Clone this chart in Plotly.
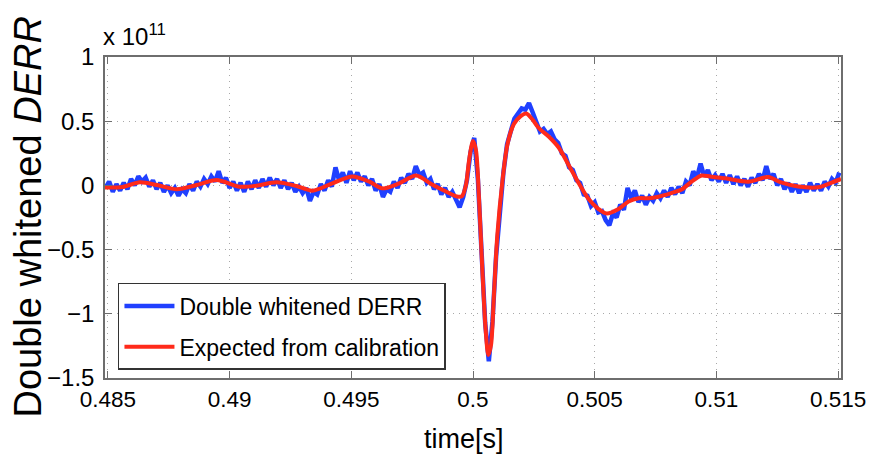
import numpy as np
import plotly.graph_objects as go

# Expected response from calibration (units of 1e11)
model_t = [0.48488, 0.48561, 0.48631, 0.48701, 0.48783, 0.48865, 0.48947, 0.49041,
           0.49111, 0.49193, 0.49275, 0.49340, 0.49422, 0.49504, 0.49574, 0.49627,
           0.49697, 0.49766, 0.49832, 0.49889, 0.49934, 0.49955, 0.49971, 0.49984,
           0.50000, 0.50012, 0.50025, 0.50038, 0.50052, 0.50063, 0.50074, 0.50086,
           0.50100, 0.50120, 0.50141, 0.50168, 0.50196, 0.50219, 0.50243, 0.50270,
           0.50311, 0.50352, 0.50393, 0.50434, 0.50475, 0.50516, 0.50549, 0.50598,
           0.50639, 0.50680, 0.50721, 0.50762, 0.50811, 0.50857, 0.50898, 0.50939,
           0.50975, 0.51037, 0.51131, 0.51213, 0.51266, 0.51336, 0.51418, 0.51471,
           0.51512]
model_v = [-0.016, -0.012, 0.024, 0.003, -0.030, 0.003, 0.042, -0.010,
           -0.002, 0.024, -0.005, -0.041, 0.016, 0.069, 0.029, -0.023,
           0.016, 0.077, 0.007, -0.048, -0.086, -0.083, 0.003, 0.198,
           0.346, 0.276, -0.113, -0.643, -1.126, -1.321, -1.243, -0.854,
           -0.386, 0.019, 0.315, 0.478, 0.540, 0.560, 0.517, 0.447,
           0.381, 0.295, 0.159, 0.019, -0.106, -0.184, -0.219, -0.184,
           -0.125, -0.100, -0.100, -0.088, -0.062, -0.032, 0.029, 0.077,
           0.069, 0.055, 0.029, 0.065, 0.023, -0.009, -0.015, 0.020,
           0.050]

# Double whitened DERR (units of 1e11), one sample every 0.15 ms
derr_t0 = 0.48490
derr_dt = 0.00015
derr_v = [-0.02, 0.03, -0.05, 0.01, -0.04, 0.02, -0.03, 0.05, 0.00, 0.07,
          0.03, 0.06, -0.01, 0.04, -0.03, 0.02, -0.05, 0.00, -0.06, -0.02,
          -0.08, -0.03, -0.06, 0.01, -0.04, 0.03, -0.01, 0.05, 0.01, 0.07,
          0.03, 0.11, 0.02, 0.06, -0.02, 0.03, -0.04, 0.02, -0.05, 0.03,
          -0.03, 0.04, -0.02, 0.05, -0.01, 0.06, 0.00, 0.05, -0.02, 0.04,
          -0.03, 0.02, -0.05, -0.01, -0.06, -0.02, -0.12, -0.05, -0.07, 0.01,
          -0.04, 0.04, -0.01, 0.14, 0.04, 0.10, 0.02, 0.11, 0.04, 0.10,
          0.03, 0.07, 0.00, 0.05, -0.04, 0.01, -0.09, -0.03, -0.05, 0.03,
          -0.02, 0.06, 0.02, 0.09, 0.05, 0.15, 0.08, 0.10, 0.02, 0.05,
          -0.03, 0.01, -0.07, -0.02, -0.09, -0.05, -0.11, -0.17, -0.09, 0.04,
          0.26, 0.37, 0.05, -0.53, -1.07, -1.37, -1.06, -0.55, -0.17, 0.10,
          0.32, 0.43, 0.52, 0.56, 0.60, 0.59, 0.64, 0.57, 0.49, 0.42,
          0.44, 0.40, 0.42, 0.36, 0.33, 0.25, 0.23, 0.14, 0.12, 0.04,
          0.02, -0.07, -0.08, -0.16, -0.13, -0.21, -0.20, -0.27, -0.31, -0.22,
          -0.25, -0.15, -0.19, -0.02, -0.10, -0.04, -0.13, -0.08, -0.15, -0.09,
          -0.12, -0.06, -0.10, -0.04, -0.09, -0.02, -0.07, -0.01, -0.06, 0.03,
          0.00, 0.11, 0.06, 0.17, 0.07, 0.12, 0.04, 0.08, 0.03, 0.09,
          0.02, 0.08, 0.01, 0.07, 0.00, 0.05, -0.01, 0.06, 0.02, 0.09,
          0.04, 0.15, 0.05, 0.09, 0.00, 0.05, -0.03, 0.02, -0.05, 0.01,
          -0.06, 0.00, -0.05, 0.02, -0.04, 0.01, -0.04, 0.03, -0.01, 0.05,
          0.02, 0.10]
derr_t = derr_t0 + derr_dt * np.arange(len(derr_v))

x_ticks = [0.485, 0.49, 0.495, 0.5, 0.505, 0.51, 0.515]
x_tick_labels = ["0.485", "0.49", "0.495", "0.5", "0.505", "0.51", "0.515"]
y_ticks = [1, 0.5, 0, -0.5, -1, -1.5]
y_tick_labels = ["1", "0.5", "0", "\u22120.5", "\u22121", "\u22121.5"]

SANS = "Liberation Sans"
AXIS_GREY = "#6e6e6e"

fig = go.Figure()
fig.add_trace(go.Scatter(
    x=derr_t, y=derr_v, mode="lines", name="Double whitened DERR",
    legendgroup="derr",
    line=dict(color="#2040ff", width=4.5),
))
fig.add_trace(go.Scatter(
    x=model_t, y=model_v, mode="lines", name="Expected from calibration",
    legendgroup="model",
    line=dict(color="#ff2a1a", width=4, shape="spline", smoothing=0.8),
))

axis_common = dict(
    showline=True, linecolor=AXIS_GREY, linewidth=1.5, mirror="ticks",
    ticks="inside", ticklen=7, tickcolor=AXIS_GREY, tickwidth=1,
    showgrid=True, gridcolor="#a8a8a8", griddash="1px,5px", gridwidth=1,
    zeroline=False, ticklabeloverflow="allow", automargin=False,
)

fig.update_xaxes(range=[0.48488, 0.51512], tickvals=x_ticks,
                 ticktext=x_tick_labels,
                 tickfont=dict(family=SANS, size=22.5, color="black"),
                 **axis_common)
fig.update_yaxes(range=[-1.5, 1], tickvals=y_ticks, ticktext=y_tick_labels,
                 ticklabelstandoff=4,
                 tickfont=dict(family=SANS, size=24, color="black"),
                 **axis_common)

fig.update_layout(
    width=869, height=461,
    margin=dict(l=105, r=28, t=57, b=83, autoexpand=False),
    paper_bgcolor="white", plot_bgcolor="white",
    font=dict(family=SANS, size=24, color="black"),
    showlegend=True,
    legend=dict(
        x=0.0176, y=0.025, xanchor="left", yanchor="bottom",
        bgcolor="white", bordercolor="#333333", borderwidth=1.5,
        font=dict(family=SANS, size=23, color="black"),
        itemwidth=50, tracegroupgap=8,
    ),
    annotations=[
        dict(text="time[s]", xref="paper", yref="paper", x=0.485, y=0,
             xanchor="center", yanchor="middle", xshift=2, yshift=-61,
             showarrow=False,
             font=dict(family=SANS, size=27, color="black")),
        dict(text="Double whitened <i>DERR</i>", xref="paper", yref="paper",
             x=0, y=0.5, xshift=-78, xanchor="center", yanchor="middle",
             textangle=-90, showarrow=False,
             font=dict(family=SANS, size=38, color="black")),
        dict(text="x 10<sup>11</sup>", xref="paper", yref="paper", x=0, y=1,
             xanchor="left", yanchor="bottom", xshift=-4, yshift=5,
             showarrow=False,
             font=dict(family=SANS, size=24, color="black")),
    ],
)

fig.write_html("out.html")
